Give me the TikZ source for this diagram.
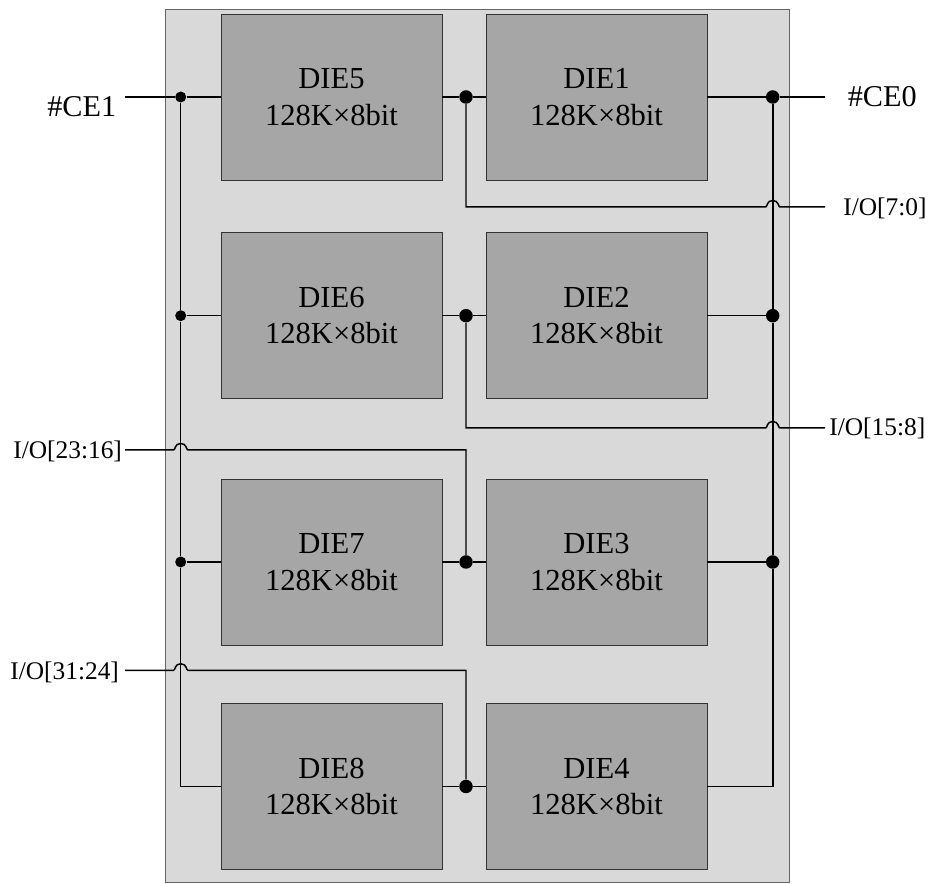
\documentclass[tikz,border=0pt]{standalone}
\usepackage{fontspec}
\setmainfont{Liberation Serif}
\tikzset{
    chipbox/.style={draw=black!60, line width=0.6pt, fill=black!15, inner sep=0pt, minimum width=12.5cm, minimum height=17.48cm},
    diebox/.style={draw=black!80, line width=0.5pt, fill=black!35, inner sep=0pt, minimum width=4.42cm, minimum height=3.32cm, align=center, font=\fontsize{17.4}{20.8}\selectfont},
    bigdot/.style={circle, fill=black, inner sep=0pt, minimum size=0.27cm},
    smalldot/.style={circle, fill=black, inner sep=0pt, minimum size=0.22cm},
    wire/.style={line width=0.85pt},
    thinwire/.style={line width=0.6pt},
    celabel/.style={inner sep=0pt, anchor=base west, font=\fontsize{17.2}{20}\selectfont},
    iolabel/.style={inner sep=0pt, anchor=base west, font=\fontsize{14.45}{17}\selectfont}
}
\begin{document}
\begin{tikzpicture}[x=0.02cm, y=-0.02cm]
        \useasboundingbox (0,0) rectangle (931,884);

        % Package outline
        \node[chipbox] (chip) at (477.5, 446) {};

        % Dies
        \node[diebox] (die5) at (331.5, 97) {DIE5\\128K×8bit};
        \node[diebox] (die1) at (596.5, 97) {DIE1\\128K×8bit};
        \node[diebox] (die6) at (331.5, 315.7) {DIE6\\128K×8bit};
        \node[diebox] (die2) at (596.5, 315.7) {DIE2\\128K×8bit};
        \node[diebox] (die7) at (331.5, 562) {DIE7\\128K×8bit};
        \node[diebox] (die3) at (596.5, 562) {DIE3\\128K×8bit};
        \node[diebox] (die8) at (331.5, 786.5) {DIE8\\128K×8bit};
        \node[diebox] (die4) at (596.5, 786.5) {DIE4\\128K×8bit};

        % Junctions
        \node[smalldot] (left1) at (180.7, 97) {};
        \node[smalldot] (left2) at (180.7, 315.7) {};
        \node[smalldot] (left3) at (180.7, 562) {};
        \node[bigdot] (mid1) at (466, 97) {};
        \node[bigdot] (mid2) at (466, 315.7) {};
        \node[bigdot] (mid3) at (466, 562) {};
        \node[bigdot] (mid4) at (466, 786.5) {};
        \node[bigdot] (right1) at (772.7, 97) {};
        \node[bigdot] (right2) at (772.7, 315.7) {};
        \node[bigdot] (right3) at (772.7, 562) {};

        % Labels
        \node[celabel] (ce1) at (47, 117) {\#CE1};
        \node[celabel] (ce0) at (847.5, 106.7) {\#CE0};
        \node[iolabel] (io0) at (843, 215.7) {I/O[7:0]};
        \node[iolabel] (io8) at (829, 436) {I/O[15:8]};
        \node[iolabel] (io16) at (13, 459) {I/O[23:16]};
        \node[iolabel] (io24) at (10, 679.3) {I/O[31:24]};

        % Free wire ends
        \coordinate (ce1end) at (125, 97);
        \coordinate (ce0end) at (825, 97);
        \coordinate (io0end) at (825, 207);
        \coordinate (io8end) at (825, 428);
        \coordinate (io16end) at (125, 450);
        \coordinate (io24end) at (125, 670.3);

        % Chip enable 1
        \draw[wire] (ce1end) -- (left1) -- (die5.west);
        \draw[wire] (left2) -- (die6.west);
        \draw[wire] (left3) -- (die7.west);
        \draw[thinwire] (left1) -- (left2) -- (left3) |- (die8.west);

        % Chip enable 0
        \draw[wire] (die1.east) -- (right1) -- (ce0end);
        \draw[wire] (die2.east) -- (right2);
        \draw[wire] (die3.east) -- (right3);
        \draw[line width=1pt] (right1) -- (right2) -- (right3) |- (die4.east);

        % Die to die
        \draw[wire] (die5.east) -- (mid1) -- (die1.west);
        \draw[wire] (die6.east) -- (mid2) -- (die2.west);
        \draw[wire] (die7.east) -- (mid3) -- (die3.west);
        \draw[wire] (die8.east) -- (mid4) -- (die4.west);

        % Data buses with jumps
        \draw[wire] (mid1) |- (765.5, 207) .. controls (767.5, 207) and (766.5, 200.5) .. (772.7, 200.5) .. controls (779, 200.5) and (778, 207) .. (780, 207) -- (io0end);
        \draw[wire] (mid2) |- (765.5, 428) .. controls (767.5, 428) and (766.5, 421.5) .. (772.7, 421.5) .. controls (779, 421.5) and (778, 428) .. (780, 428) -- (io8end);
        \draw[wire] (io16end) -- (173.5, 450) .. controls (175.5, 450) and (174.5, 443.5) .. (180.7, 443.5) .. controls (187, 443.5) and (186, 450) .. (188, 450) -| (mid3);
        \draw[wire] (io24end) -- (173.5, 670.3) .. controls (175.5, 670.3) and (174.5, 663.8) .. (180.7, 663.8) .. controls (187, 663.8) and (186, 670.3) .. (188, 670.3) -| (mid4);
    \end{tikzpicture}
\end{document}
